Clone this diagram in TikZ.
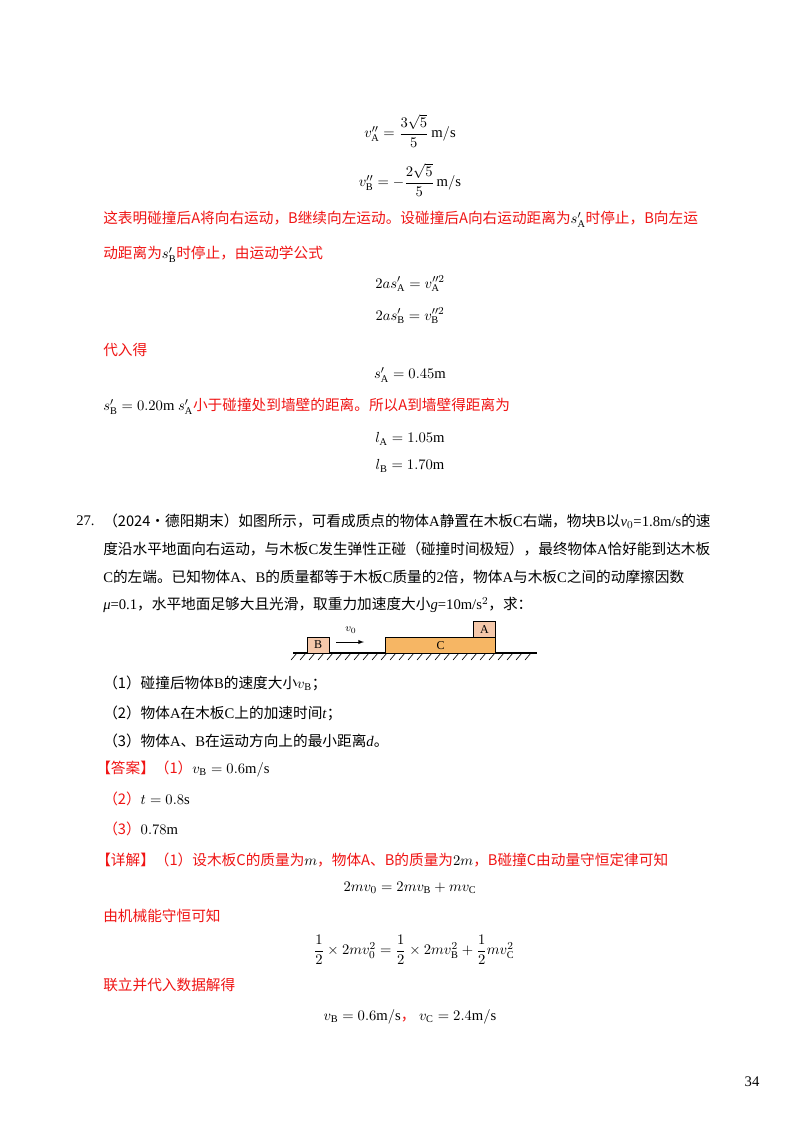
\documentclass[tikz,border=0pt]{standalone}
\usepackage{amsmath}
\usepackage{fontspec}
\setmainfont{Liberation Serif}
\newfontfamily\cjk{Noto Sans CJK SC}
\definecolor{rd}{RGB}{240,20,20}
\definecolor{cfill}{RGB}{246,182,100}
\definecolor{pfill}{RGB}{245,200,170}
\begin{document}
\begin{tikzpicture}[x=0.75pt,y=-0.75pt,
  every node/.style={inner sep=0pt,font=\fontsize{11}{13}\selectfont},
  ln/.style={anchor=west},
  red/.style={ln,text=rd},
  eq/.style={anchor=center},
  box/.style={draw,line width=0.6pt}]
\useasboundingbox (0,0) rectangle (800,1132);
\fill[white] (0,0) rectangle (800,1132);
\node[eq] (e1) at (410,131) {$v_{\rm A}'' = \dfrac{3\sqrt5}{5}\,\mathrm{m/s}$};
\node[eq] (e2) at (410,180) {$v_{\rm B}'' = -\dfrac{2\sqrt5}{5}\,\mathrm{m/s}$};
\node[red] (r1) at (103,219) {\cjk 这表明碰撞后A将向右运动，B继续向左运动。设碰撞后A向右运动距离为\textcolor{black}{$s_{\rm A}'$}时停止，B向左运};
\node[red] (r2) at (103,254) {\cjk 动距离为\textcolor{black}{$s_{\rm B}'$}时停止，由运动学公式};
\node[eq] (e3) at (410,284) {$2as_{\rm A}' = v_{\rm A}''^2$};
\node[eq] (e4) at (410,316) {$2as_{\rm B}' = v_{\rm B}''^2$};
\node[red] (r3) at (103,350) {\cjk 代入得};
\node[eq] (e5) at (410,375) {$s_{\rm A}' = 0.45\mathrm{m}$};
\node[red] (r4) at (103,406) {\textcolor{black}{$s_{\rm B}' = 0.20\mathrm{m}\ s_{\rm A}'$}\cjk 小于碰撞处到墙壁的距离。所以A到墙壁得距离为};
\node[eq] (e6) at (410,439) {$l_{\rm A} = 1.05\mathrm{m}$};
\node[eq] (e7) at (410,466) {$l_{\rm B} = 1.70\mathrm{m}$};
\node[ln] (q0) at (76,521) {27.};
\node[ln] (q1) at (103,521) {\cjk （2024·德阳期末）如图所示，可看成质点的物体\rm A\cjk 静置在木板\rm C\cjk 右端，物块\rm B\cjk 以\rm \textit{v}$_0$=1.8m/s\cjk 的速};
\node[ln] (q2) at (103,549) {\cjk 度沿水平地面向右运动，与木板\rm C\cjk 发生弹性正碰（碰撞时间极短），最终物体\rm A\cjk 恰好能到达木板};
\node[ln] (q3) at (103,577) {\rm C\cjk 的左端。已知物体\rm A\cjk 、\rm B\cjk 的质量都等于木板\rm C\cjk 质量的\rm 2\cjk 倍，物体\rm A\cjk 与木板\rm C\cjk 之间的动摩擦因数};
\node[ln] (q4) at (103,605) {\rm\textit{μ}=0.1\cjk ，水平地面足够大且光滑，取重力加速度大小\rm\textit{g}=10m/s$^2$\cjk ，求：};
% diagram
\draw[line width=0.8pt] (293,653) coordinate (g1) -- (537,653) coordinate (g2);
\foreach \i in {0,...,26} \draw[line width=0.5pt] (297+\i*9,653) -- ++(-6,7);
\node[box,fill=pfill,minimum width=16.5pt,minimum height=12pt,font=\fontsize{9}{10}\selectfont] (B) at (318,645) {B};
\node[box,fill=cfill,minimum width=82pt,minimum height=11.5pt,font=\fontsize{9}{10}\selectfont] (C) at (440.5,645.5) {C};
\node[box,fill=pfill,minimum width=16pt,minimum height=12pt,font=\fontsize{9}{10}\selectfont,anchor=south east] (A) at (C.north east) {A};
\coordinate (a1) at (336,642); \coordinate (a2) at (364,642);
\draw[-latex,line width=0.5pt] (a1) -- (a2);
\node[font=\fontsize{8}{9}\selectfont] (v0) at (351,630) {$v_0$};
\node[ln] (p1) at (103,683) {\cjk （1）碰撞后物体\rm B\cjk 的速度大小$v_{\rm B}$；};
\node[ln] (p2) at (103,713) {\cjk （2）物体\rm A\cjk 在木板\rm C\cjk 上的加速时间\rm\textit{t}\cjk ；};
\node[ln] (p3) at (103,741) {\cjk （3）物体\rm A\cjk 、\rm B\cjk 在运动方向上的最小距离\rm\textit{d}\cjk 。};
\node[red] (s1) at (96,769) {\cjk 【答案】（1）\textcolor{black}{$v_{\rm B}=0.6\mathrm{m/s}$}};
\node[red] (s2) at (103,799) {\cjk （2）\textcolor{black}{$t=0.8\mathrm{s}$}};
\node[red] (s3) at (103,829) {\cjk （3）\textcolor{black}{$0.78\mathrm{m}$}};
\node[red] (d1) at (96,860) {\cjk 【详解】（1）设木板C的质量为\textcolor{black}{$m$}，物体A、B的质量为\textcolor{black}{$2m$}，B碰撞C由动量守恒定律可知};
\node[eq] (e8) at (410,888) {$2mv_0 = 2mv_{\rm B} + mv_{\rm C}$};
\node[red] (d2) at (103,916) {\cjk 由机械能守恒可知};
\node[eq] (e9) at (414,950) {$\dfrac12\times2mv_0^2 = \dfrac12\times2mv_{\rm B}^2+\dfrac12mv_{\rm C}^2$};
\node[red] (d3) at (103,985) {\cjk 联立并代入数据解得};
\node[eq] (e10) at (410,1017) {$v_{\rm B}=0.6\mathrm{m/s}$\textcolor{rd}{\cjk ，}\ $v_{\rm C}=2.4\mathrm{m/s}$};
\node[eq] (pg) at (752,1082) {34};
\end{tikzpicture}
\end{document}
